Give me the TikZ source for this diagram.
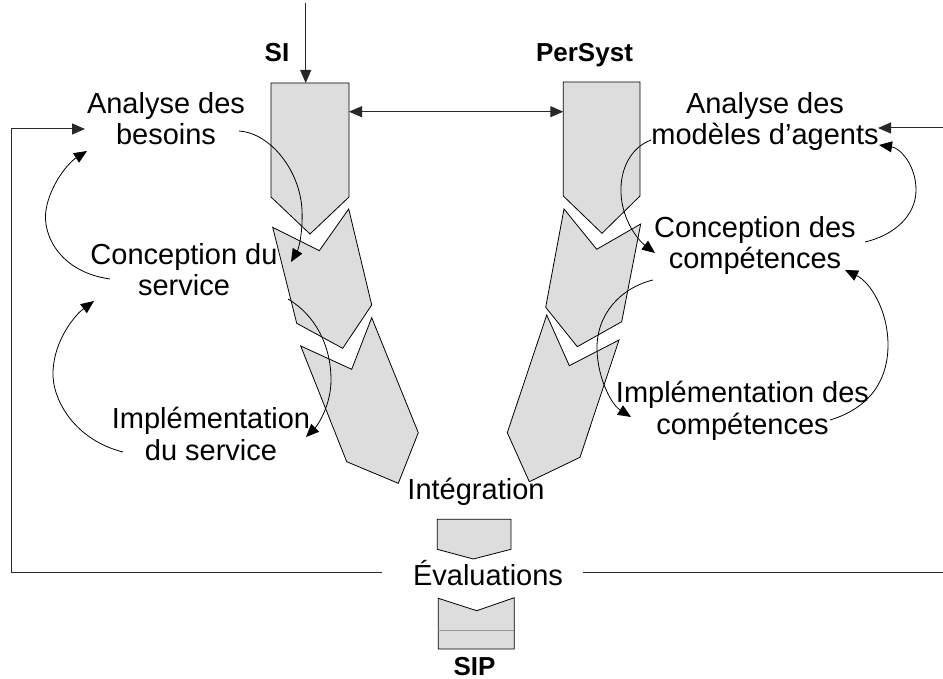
\documentclass[tikz,border=0pt]{standalone}
\usepackage{fontspec}
\setmainfont{Liberation Sans}
\usetikzlibrary{arrows.meta}
\definecolor{blockgray}{RGB}{221,221,221}
\definecolor{linegray}{RGB}{40,40,40}
\definecolor{seamgray}{RGB}{150,150,150}
\begin{document}
\begin{tikzpicture}[x=1pt,y=-1pt,
  blockshape/.style={draw=black, fill=blockgray, line width=0.8pt, line join=miter},
  flowline/.style={draw=linegray, line width=1pt},
  arrowtip/.style={-{Triangle[length=13pt,width=11pt]}},
  loopcurve/.style={draw=black, line width=0.8pt, -{Triangle[length=13pt,width=11pt]}},
  lbl/.style={font=\fontsize{29}{31.5}\selectfont, align=center, inner sep=0pt},
  ttl/.style={font=\fontsize{26}{30}\selectfont\bfseries, inner sep=0pt}]
\useasboundingbox (0,0) rectangle (943,679);

% ---- blocks SI
\draw[blockshape] (271,83) -- (349,83) -- (349,197) -- (310,234) -- (271,197) -- cycle;
\draw[blockshape] (272.7,227.3) -- (319.3,250.7) -- (348.7,209) -- (371.7,305) -- (342.7,348.3) -- (296.7,323.3) -- cycle;
\draw[blockshape] (300.7,346) -- (351.7,369.3) -- (371.7,317.7) -- (418.3,432.7) -- (398.3,483.3) -- (346.7,461.7) -- cycle;
% ---- blocks PerSyst
\draw[blockshape] (563.3,82) -- (640,82) -- (640,196) -- (602,233.3) -- (563.3,196) -- cycle;
\draw[blockshape] (564,209) -- (596.7,249.3) -- (640.7,224) -- (621.7,321.7) -- (577.3,346.7) -- (545.7,307.3) -- cycle;
\draw[blockshape] (546.7,315) -- (569.3,365.7) -- (619,340) -- (580,457.3) -- (529.3,481.7) -- (507.3,432.7) -- cycle;
% ---- integration block
\draw[blockshape] (437.3,519.3) -- (511,519.3) -- (511,549.3) -- (473.3,559) -- (437.3,549.3) -- cycle;
% ---- SIP block
\draw[blockshape] (438.3,598.3) -- (476.7,610.7) -- (514.3,597.7) -- (514.3,649) -- (438.3,649) -- cycle;
\draw[draw=seamgray, line width=1pt] (438.3,630.7) -- (514.3,630.7);

% ---- labels
\node[ttl, anchor=base] (si) at (277,61.7) {SI};
\node[ttl, anchor=base] (persyst) at (584.5,61.7) {PerSyst};
\node[lbl, anchor=north] (besoins) at (166,92) {Analyse des\\besoins};
\node[lbl, anchor=north] (concserv) at (184,243) {Conception du\\service};
\node[lbl, anchor=north] (implserv) at (211,407) {Implémentation\\du service};
\node[lbl, anchor=north] (agents) at (765,92) {Analyse des\\modèles d’agents};
\node[lbl, anchor=north] (conccomp) at (755,216) {Conception des\\compétences};
\node[lbl, anchor=north] (implcomp) at (742.5,381) {Implémentation des\\compétences};
\node[lbl, anchor=base] (integ) at (476,499) {Intégration};
\node[lbl, anchor=base] (evals) at (488,585) {Évaluations};
\node[ttl, anchor=base] (sip) at (474.5,675) {SIP};

% ---- connector end points
\coordinate (intop) at (305.7,3);
\coordinate (sitop) at (305.7,83);
\coordinate (sieast) at (349,111.7);
\coordinate (pswest) at (563.3,111.7);
\coordinate (fbtl) at (11,129);
\coordinate (fbbl) at (11,572);
\coordinate (fbin) at (85,129);
\coordinate (evl) at (382,572);
\coordinate (evr) at (583,572);
\coordinate (fbbr) at (943,572);
\coordinate (fbtr) at (943,128);
\coordinate (fbinr) at (878,128);

% ---- straight connectors
\draw[flowline, arrowtip] (intop) -- (sitop);
\draw[flowline, {Triangle[length=13pt,width=11pt]}-{Triangle[length=13pt,width=11pt]}] (sieast) -- (pswest);
\draw[flowline, arrowtip] (evl) -- (fbbl) -- (fbtl) -- (fbin);
\draw[flowline] (evr) -- (fbbr);
\draw[flowline, arrowtip] (fbtr) -- (fbinr);

% ---- loop curves, left
\draw[loopcurve] (110,279) .. controls (60,272) and (42,235) .. (46,210) .. controls (50,185) and (68,163) .. (87,151);
\draw[loopcurve] (123,452) .. controls (75,440) and (52,400) .. (53,372) .. controls (54,340) and (75,315) .. (94,301);
\draw[loopcurve] (239,131) .. controls (270,133) and (300,170) .. (302,210) .. controls (303,235) and (298,250) .. (291,262);
\draw[loopcurve] (288,299) .. controls (315,315) and (331,345) .. (331,380) .. controls (331,405) and (318,425) .. (306,437);
% ---- loop curves, right
\draw[loopcurve] (651,140) .. controls (630,148) and (620,170) .. (621,193) .. controls (622,220) and (638,240) .. (655,253);
\draw[loopcurve] (865,242) .. controls (895,235) and (916,215) .. (916,190) .. controls (916,165) and (900,148) .. (879,145);
\draw[loopcurve] (653,280) .. controls (620,288) and (596,315) .. (597,350) .. controls (598,380) and (612,405) .. (631,417);
\draw[loopcurve] (830,420) .. controls (870,408) and (888,380) .. (888,345) .. controls (888,310) and (870,282) .. (845,270);
\end{tikzpicture}
\end{document}
